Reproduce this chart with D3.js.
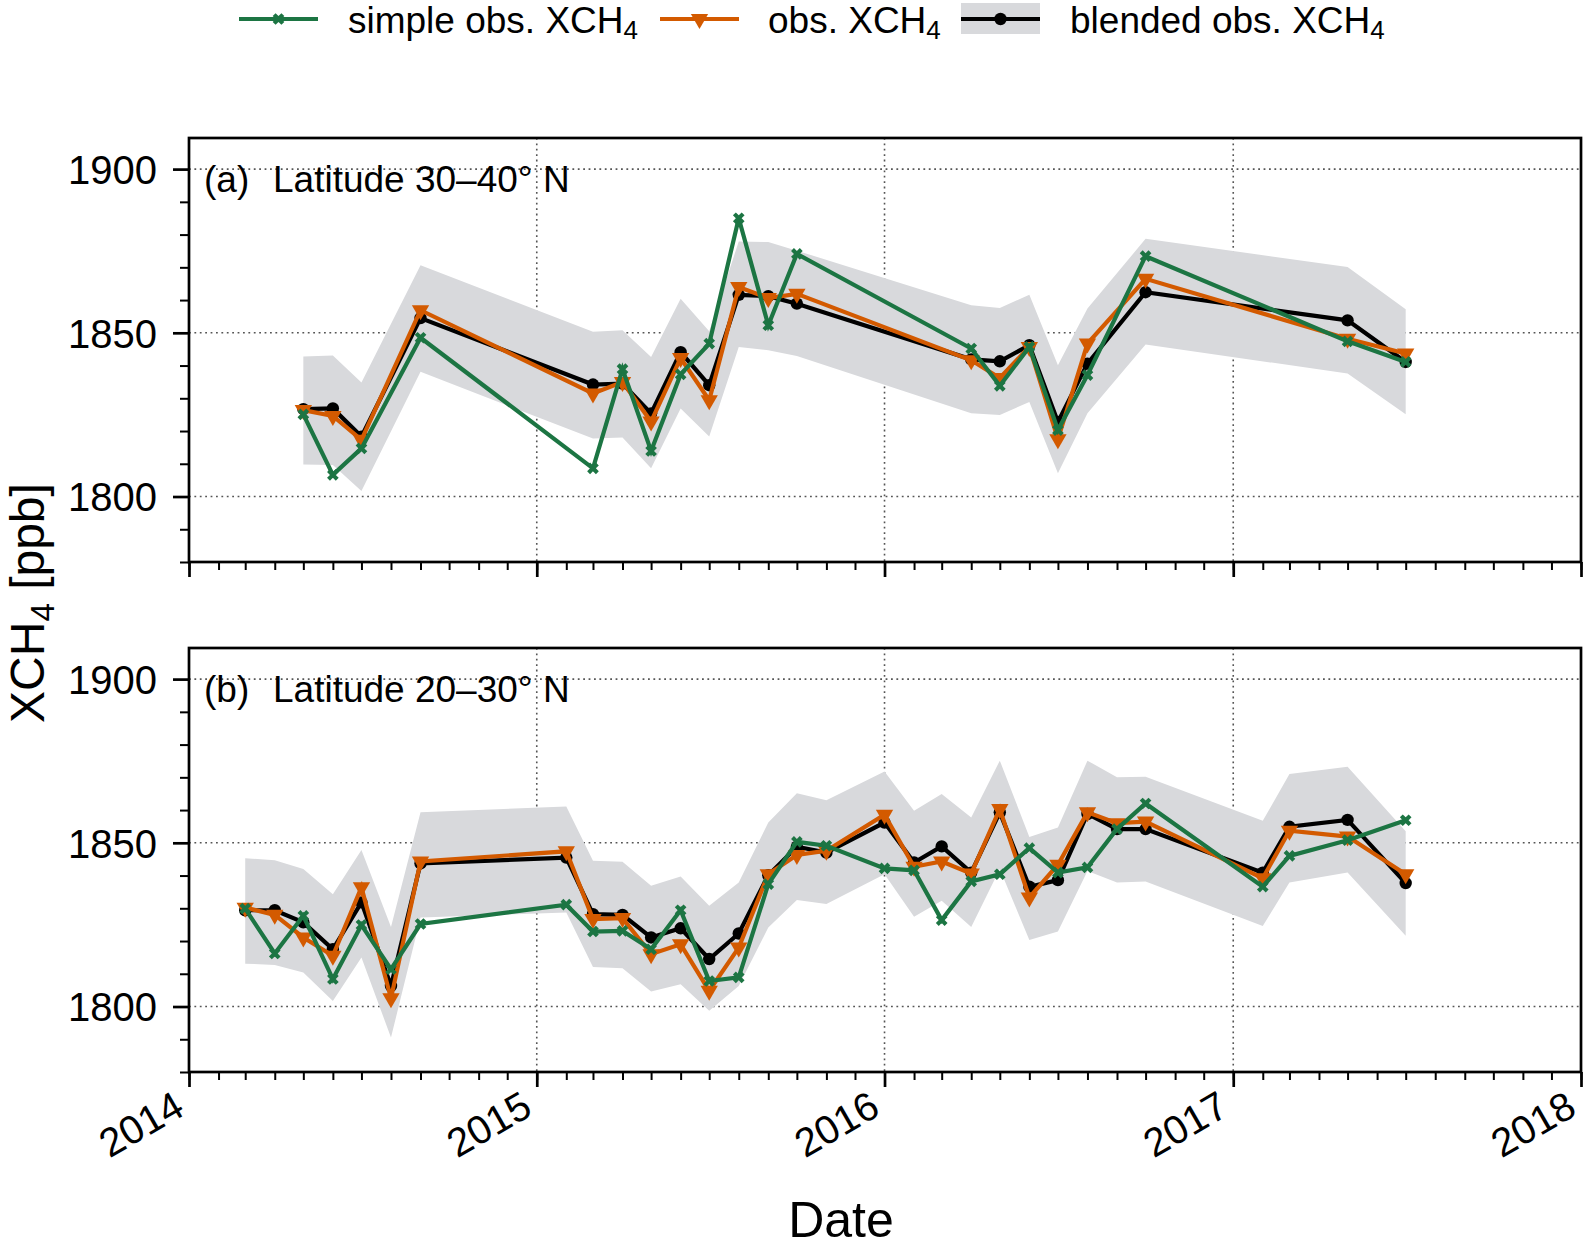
<!DOCTYPE html>
<html><head><meta charset="utf-8">
<script src="https://cdn.jsdelivr.net/npm/d3@7"></script>
<style>
body{margin:0;background:#fff}
svg{display:block}
text{font-family:"Liberation Sans",Arial,Helvetica,sans-serif;fill:#000}
</style>
</head><body>
<svg id="chart" width="1584" height="1248"></svg>
<script>
// ---------------- data ----------------
const datesA = ["2014-05","2014-06","2014-07","2014-09","2015-03","2015-04","2015-05","2015-06","2015-07","2015-08","2015-09","2015-10","2016-04","2016-05","2016-06","2016-07","2016-08","2016-10","2017-05","2017-07"];
const blendedA = [1826.7,1826.9,1818.3,1854.5,1834.2,1834.5,1825.4,1844.1,1834.0,1861.6,1861.2,1858.9,1841.9,1841.3,1846.2,1822.8,1840.6,1862.4,1853.8,1841.1];
const obsA     = [1826.4,1824.6,1817.3,1856.9,1831.5,1835.0,1822.9,1842.3,1829.4,1864.0,1860.6,1861.9,1841.6,1836.2,1845.7,1817.5,1846.7,1866.5,1848.2,1843.7];
const simpleA  = [1825.1,1806.6,1814.7,1848.5,1808.6,1838.9,1813.9,1837.3,1846.7,1885.0,1852.3,1874.1,1845.2,1833.8,1845.7,1820.3,1837.1,1873.4,1847.4,1841.1];
const bandUpA  = [1842.8,1843.1,1834.8,1870.6,1850.3,1850.8,1842.6,1860.4,1850.5,1877.9,1877.7,1875.1,1858.4,1857.6,1861.6,1840.1,1857.4,1878.7,1870.1,1857.2];
const bandLoA  = [1809.8,1809.6,1801.7,1838.1,1817.7,1818.0,1808.6,1826.9,1818.3,1845.7,1844.7,1842.9,1825.4,1824.9,1828.9,1807.1,1825.4,1846.4,1837.6,1825.1];

const datesB = ["2014-03","2014-04","2014-05","2014-06","2014-07","2014-08","2014-09","2015-02","2015-03","2015-04","2015-05","2015-06","2015-07","2015-08","2015-09","2015-10","2015-11","2016-01","2016-02","2016-03","2016-04","2016-05","2016-06","2016-07","2016-08","2016-09","2016-10","2017-02","2017-03","2017-05","2017-07"];
const blendedB = [1829.4,1829.4,1825.7,1817.5,1831.8,1806.3,1843.7,1845.5,1828.2,1828.0,1821.1,1823.9,1814.5,1822.3,1840.1,1848.8,1847.0,1856.2,1844.0,1848.9,1840.9,1859.3,1836.6,1838.6,1858.8,1854.2,1854.2,1840.9,1854.9,1857.0,1837.7];
const obsB     = [1830.2,1828.0,1821.1,1815.5,1836.4,1802.5,1844.3,1847.4,1826.7,1827.0,1816.0,1819.0,1804.8,1818.0,1840.4,1846.3,1847.6,1858.6,1842.7,1844.3,1840.6,1860.3,1833.3,1843.3,1859.3,1856.0,1856.5,1839.2,1853.7,1851.9,1840.4];
const simpleB  = [1829.9,1816.2,1827.7,1808.4,1824.9,1811.4,1825.2,1831.1,1822.9,1823.1,1817.5,1829.4,1807.8,1808.9,1837.4,1850.3,1849.1,1842.2,1841.6,1826.4,1838.2,1840.4,1848.4,1840.9,1842.5,1854.2,1862.0,1836.6,1846.0,1850.8,1856.9];
const bandUpB  = [1845.3,1844.7,1842.0,1834.3,1847.8,1824.3,1859.3,1861.1,1844.5,1844.2,1836.9,1839.7,1830.8,1837.9,1856.2,1865.1,1863.0,1871.8,1859.8,1864.9,1857.7,1875.1,1851.8,1854.7,1875.1,1870.0,1870.2,1856.7,1871.0,1873.2,1853.5];
const bandLoB  = [1813.1,1812.7,1810.4,1801.7,1815.0,1790.5,1827.2,1828.7,1812.1,1811.7,1804.6,1806.8,1798.7,1806.3,1824.1,1832.5,1831.3,1840.4,1827.4,1832.3,1824.3,1842.0,1820.3,1822.9,1841.4,1837.9,1838.2,1824.6,1837.9,1840.9,1821.6];

const yearTicks = ["2014","2015","2016","2017","2018"];
const yMajorTicks = [1800, 1850, 1900];
const panelTags = ["(a)", "(b)"];
const panelTitles = ["Latitude 30\u201340\u00b0 N", "Latitude 20\u201330\u00b0 N"];
const legendLabels = ["simple obs. XCH", "obs. XCH", "blended obs. XCH"];

// ---------------- setup ----------------
const parseM = d3.utcParse("%Y-%m");
const parseY = d3.utcParse("%Y");
const C = {green:"#1c7543", orange:"#d35a00", black:"#000", band:"#d8d9dc", grid:"#555"};
const svg = d3.select("#chart");
const X0 = 189, X1 = 1581;
const x = d3.scaleUtc().domain([parseY("2014"), parseY("2018")]).range([X0, X1]);
const yDom = [1780, 1909.5];
const LW = 4.2;

const panels = [
  {top:138, bottom:562, dates:datesA, bl:blendedA, ob:obsA, si:simpleA, up:bandUpA, lo:bandLoA, labels:false},
  {top:648, bottom:1072, dates:datesB, bl:blendedB, ob:obsB, si:simpleB, up:bandUpB, lo:bandLoB, labels:true}
];

const triDown = d3.symbol().type(d3.symbolTriangle).size(130);
const xMark = d3.symbol().type(d3.symbolCross).size(85);

panels.forEach((p, pi) => {
  const y = d3.scaleLinear().domain(yDom).range([p.bottom, p.top]);
  const g = svg.append("g");
  const dts = p.dates.map(parseM);

  // grid
  g.append("g").selectAll("line.h").data(yMajorTicks).join("line")
    .attr("x1", X0).attr("x2", X1).attr("y1", d => y(d)).attr("y2", d => y(d))
    .attr("stroke", C.grid).attr("stroke-width", 1.6).attr("stroke-dasharray", "1.8,3.6");
  g.append("g").selectAll("line.v").data(yearTicks.slice(1, 4).map(parseY)).join("line")
    .attr("x1", d => x(d)).attr("x2", d => x(d)).attr("y1", p.top).attr("y2", p.bottom)
    .attr("stroke", C.grid).attr("stroke-width", 1.6).attr("stroke-dasharray", "1.8,3.6");

  // band
  const area = d3.area().x((d, i) => x(dts[i])).y0((d, i) => y(p.lo[i])).y1((d, i) => y(p.up[i]));
  g.append("path").datum(p.up).attr("d", area).attr("fill", C.band);

  const line = vals => d3.line().x((d, i) => x(dts[i])).y(d => y(d))(vals);

  // blended (black)
  g.append("path").attr("d", line(p.bl)).attr("fill", "none").attr("stroke", C.black)
    .attr("stroke-width", LW).attr("stroke-linejoin", "miter");
  g.append("g").selectAll("circle").data(p.bl).join("circle")
    .attr("cx", (d, i) => x(dts[i])).attr("cy", d => y(d)).attr("r", 6.2).attr("fill", C.black);

  // obs (orange)
  g.append("path").attr("d", line(p.ob)).attr("fill", "none").attr("stroke", C.orange)
    .attr("stroke-width", LW).attr("stroke-linejoin", "miter");
  g.append("g").selectAll("path").data(p.ob).join("path")
    .attr("d", triDown())
    .attr("transform", (d, i) => `translate(${x(dts[i])},${y(d)}) rotate(180)`)
    .attr("fill", C.orange);

  // simple (green)
  g.append("path").attr("d", line(p.si)).attr("fill", "none").attr("stroke", C.green)
    .attr("stroke-width", LW).attr("stroke-linejoin", "miter");
  g.append("g").selectAll("path").data(p.si).join("path")
    .attr("d", xMark())
    .attr("transform", (d, i) => `translate(${x(dts[i])},${y(d)}) rotate(45)`)
    .attr("fill", C.green);

  // x axis (major + minor)
  const xMajor = d3.axisBottom(x).tickValues(yearTicks.map(parseY)).tickSize(15)
    .tickFormat(p.labels ? d3.utcFormat("%Y") : "");
  const xMinor = d3.axisBottom(x).ticks(d3.utcMonth.every(1)).tickSize(8).tickFormat("");
  const gxm = g.append("g").attr("transform", `translate(0,${p.bottom})`).call(xMinor);
  gxm.select(".domain").remove();
  gxm.selectAll(".tick line").attr("stroke", "#000").attr("stroke-width", 2);
  const gx = g.append("g").attr("transform", `translate(0,${p.bottom})`).call(xMajor);
  gx.select(".domain").remove();
  gx.selectAll(".tick line").attr("stroke", "#000").attr("stroke-width", 2.7);
  gx.selectAll(".tick text")
    .attr("x", 0).attr("y", 0).attr("dy", 0)
    .attr("text-anchor", "end")
    .attr("transform", "translate(-3,42) rotate(-30)")
    .style("font-size", "40px").style("font-family", "'Liberation Sans',Arial,sans-serif").attr("fill", "#000");

  // y axis
  const yMinorVals = d3.range(1780, 1910, 10).filter(v => !yMajorTicks.includes(v));
  const gym = g.append("g").attr("transform", `translate(${X0},0)`)
    .call(d3.axisLeft(y).tickValues(yMinorVals).tickSize(9).tickFormat(""));
  gym.select(".domain").remove();
  gym.selectAll(".tick line").attr("stroke", "#000").attr("stroke-width", 2);
  const gy = g.append("g").attr("transform", `translate(${X0},0)`)
    .call(d3.axisLeft(y).tickValues(yMajorTicks).tickSize(16).tickPadding(16).tickFormat(d3.format("d")));
  gy.select(".domain").remove();
  gy.selectAll(".tick line").attr("stroke", "#000").attr("stroke-width", 2.7);
  gy.selectAll(".tick text").attr("dy", "0.36em")
    .style("font-size", "40px").style("font-family", "'Liberation Sans',Arial,sans-serif").attr("fill", "#000");

  // frame
  g.append("rect").attr("x", X0).attr("y", p.top).attr("width", X1 - X0).attr("height", p.bottom - p.top)
    .attr("fill", "none").attr("stroke", "#000").attr("stroke-width", 2.7);

  // panel title
  g.append("text").attr("x", 204).attr("y", p.top + 54).style("font-size", "37px").text(panelTags[pi]);
  g.append("text").attr("x", 273).attr("y", p.top + 54).style("font-size", "37px").text(panelTitles[pi]);
});

// axis labels
const yl = svg.append("text").attr("text-anchor", "middle")
  .attr("transform", "translate(44,603) rotate(-90)").style("font-size", "48px");
yl.append("tspan").text("XCH");
yl.append("tspan").attr("dy", 10).style("font-size", "33px").text("4");
yl.append("tspan").attr("dy", -10).text(" [ppb]");

svg.append("text").attr("x", 841).attr("y", 1237).attr("text-anchor", "middle")
  .style("font-size", "50px").text("Date");

// legend
const lg = svg.append("g");
const legY = 19;
// simple
lg.append("line").attr("x1", 239).attr("x2", 318).attr("y1", legY).attr("y2", legY)
  .attr("stroke", C.green).attr("stroke-width", LW);
lg.append("path").attr("d", xMark()).attr("transform", `translate(278.5,${legY}) rotate(45)`).attr("fill", C.green);
// obs
lg.append("line").attr("x1", 660).attr("x2", 739).attr("y1", legY).attr("y2", legY)
  .attr("stroke", C.orange).attr("stroke-width", LW);
lg.append("path").attr("d", triDown()).attr("transform", `translate(699.5,${legY}) rotate(180)`).attr("fill", C.orange);
// blended
lg.append("rect").attr("x", 961).attr("y", 3).attr("width", 79).attr("height", 31).attr("fill", C.band);
lg.append("line").attr("x1", 961).attr("x2", 1040).attr("y1", legY).attr("y2", legY)
  .attr("stroke", C.black).attr("stroke-width", LW);
lg.append("circle").attr("cx", 1000.5).attr("cy", legY).attr("r", 6.2).attr("fill", C.black);

const legTextX = [348, 768, 1070];
legendLabels.forEach((t, i) => {
  const tx = lg.append("text").attr("x", legTextX[i]).attr("y", 33).style("font-size", "37px");
  tx.append("tspan").text(t);
  tx.append("tspan").attr("dy", 6).style("font-size", "26px").text("4");
});
</script>
</body></html>
